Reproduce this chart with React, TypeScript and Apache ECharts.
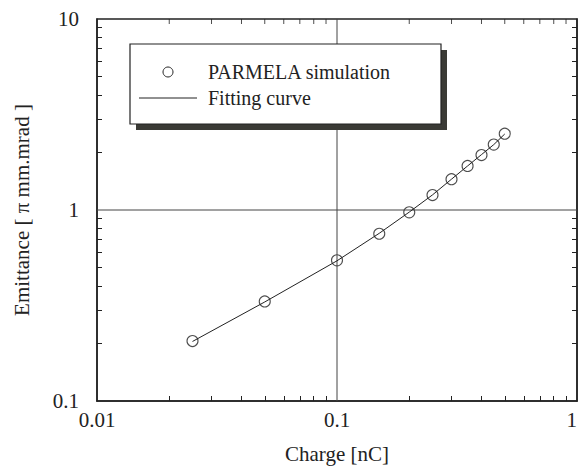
import React, { useEffect, useRef } from "react";
import * as echarts from "echarts";

const charge = [0.025, 0.05, 0.1, 0.15, 0.2, 0.25, 0.3, 0.35, 0.4, 0.45, 0.5];
const emitSim = [0.206, 0.332, 0.545, 0.751, 0.972, 1.198, 1.45, 1.7, 1.94, 2.2, 2.51];
const emitFit = [0.205, 0.33, 0.542, 0.755, 0.975, 1.2, 1.45, 1.7, 1.95, 2.2, 2.5];
const xTicks = [0.02, 0.03, 0.04, 0.05, 0.06, 0.07, 0.08, 0.09, 0.2, 0.3, 0.4, 0.5, 0.6, 0.7, 0.8, 0.9];
const yTicks = [0.2, 0.3, 0.4, 0.5, 0.6, 0.7, 0.8, 0.9, 2, 3, 4, 5, 6, 7, 8, 9];
const xLabels = [0.01, 0.1, 1];
const yLabels = [0.1, 1, 10];
const gridX = 0.1;
const gridY = 1;
const legendNames = ["PARMELA simulation", "Fitting curve"];

const FONT = "Liberation Serif, serif";
const INK = "#222";
const TICK = 5;

export default function App() {
  const ref = useRef<HTMLDivElement>(null);
  useEffect(() => {
    document.body.style.margin = "0";
    const chart = echarts.init(ref.current!, undefined, { renderer: "svg" });
    const xMin = xLabels[0];
    const xMax = xLabels[xLabels.length - 1];
    const yMin = yLabels[0];
    const yMax = yLabels[yLabels.length - 1];
    const axisPart = (ticks: number[]) => ({
      type: "log",
      splitLine: { show: false },
      axisLine: { show: true, lineStyle: { color: INK, width: 1.5 } },
      axisTick: { show: true, inside: true, length: TICK, customValues: ticks, lineStyle: { color: INK, width: 1 } },
    });
    const legendFont = `20px ${FONT}`;
    chart.setOption({
      animation: false,
      grid: {
        left: 97, top: 19, right: 1, bottom: 67, outerBoundsMode: "none",
        show: true, borderColor: INK, borderWidth: 1.5, backgroundColor: "transparent",
      },
      xAxis: {
        ...axisPart(xTicks),
        position: "bottom",
        min: xMin,
        max: xMax,
        name: "Charge [nC]",
        nameLocation: "middle",
        nameGap: 42,
        nameTextStyle: { fontFamily: FONT, fontSize: 21, color: INK },
        axisLabel: { customValues: xLabels, fontFamily: FONT, fontSize: 21, color: INK, margin: 8, alignMaxLabel: "right" },
      },
      yAxis: [
        {
          ...axisPart(yTicks),
          position: "left",
          min: yMin,
          max: yMax,
          name: "Emittance [ π mm.mrad ]",
          nameLocation: "middle",
          nameGap: 65,
          nameTextStyle: { fontFamily: FONT, fontSize: 21, color: INK },
          axisLabel: { customValues: yLabels, fontFamily: FONT, fontSize: 21, color: INK, margin: 18, padding: [0, 0, 6, 0] },
        },
        {
          ...axisPart(yTicks),
          position: "right",
          min: yMin,
          max: yMax,
          axisLabel: { show: false },
        },
      ],
      graphic: [
        { type: "rect", z: 20, shape: { x: 136, y: 50, width: 311, height: 80 }, style: { fill: "#3a3a35" } },
        { type: "rect", z: 21, shape: { x: 130, y: 44, width: 311, height: 80 }, style: { fill: "#fff", stroke: INK, lineWidth: 1.2 } },
        { type: "circle", z: 22, shape: { cx: 168, cy: 72, r: 5 }, style: { fill: "none", stroke: INK, lineWidth: 1 } },
        { type: "line", z: 22, shape: { x1: 139, y1: 98, x2: 197, y2: 98 }, style: { stroke: INK, lineWidth: 1 } },
        { type: "text", z: 22, x: 208, y: 72, style: { text: legendNames[0], font: legendFont, fill: INK, verticalAlign: "middle", align: "left" } },
        { type: "text", z: 22, x: 208, y: 98, style: { text: legendNames[1], font: legendFont, fill: INK, verticalAlign: "middle", align: "left" } },
      ],
      series: [
        {
          name: "gridV",
          type: "line",
          data: [[gridX, yMin], [gridX, yMax]],
          showSymbol: false,
          symbol: "none",
          silent: true,
          lineStyle: { color: "#444", width: 1 },
        },
        {
          name: "gridH",
          type: "line",
          data: [[xMin, gridY], [xMax, gridY]],
          showSymbol: false,
          symbol: "none",
          silent: true,
          lineStyle: { color: "#444", width: 1 },
        },
        {
          name: "topTicks",
          type: "scatter",
          clip: false,
          silent: true,
          symbol: "rect",
          symbolSize: [1, TICK],
          symbolOffset: [0, TICK / 2],
          itemStyle: { color: INK },
          data: xTicks.map((v) => [v, yMax]),
        },
        {
          name: legendNames[1],
          type: "line",
          data: charge.map((c, i) => [c, emitFit[i]]),
          showSymbol: false,
          symbol: "none",
          lineStyle: { color: INK, width: 1 },
          itemStyle: { color: INK },
        },
        {
          name: legendNames[0],
          type: "scatter",
          data: charge.map((c, i) => [c, emitSim[i]]),
          symbol: "circle",
          symbolSize: 11,
          itemStyle: { color: "transparent", borderColor: INK, borderWidth: 1.1 },
        },
      ],
    });
    return () => chart.dispose();
  }, []);
  return <div ref={ref} style={{ width: 578, height: 468 }} />;
}
